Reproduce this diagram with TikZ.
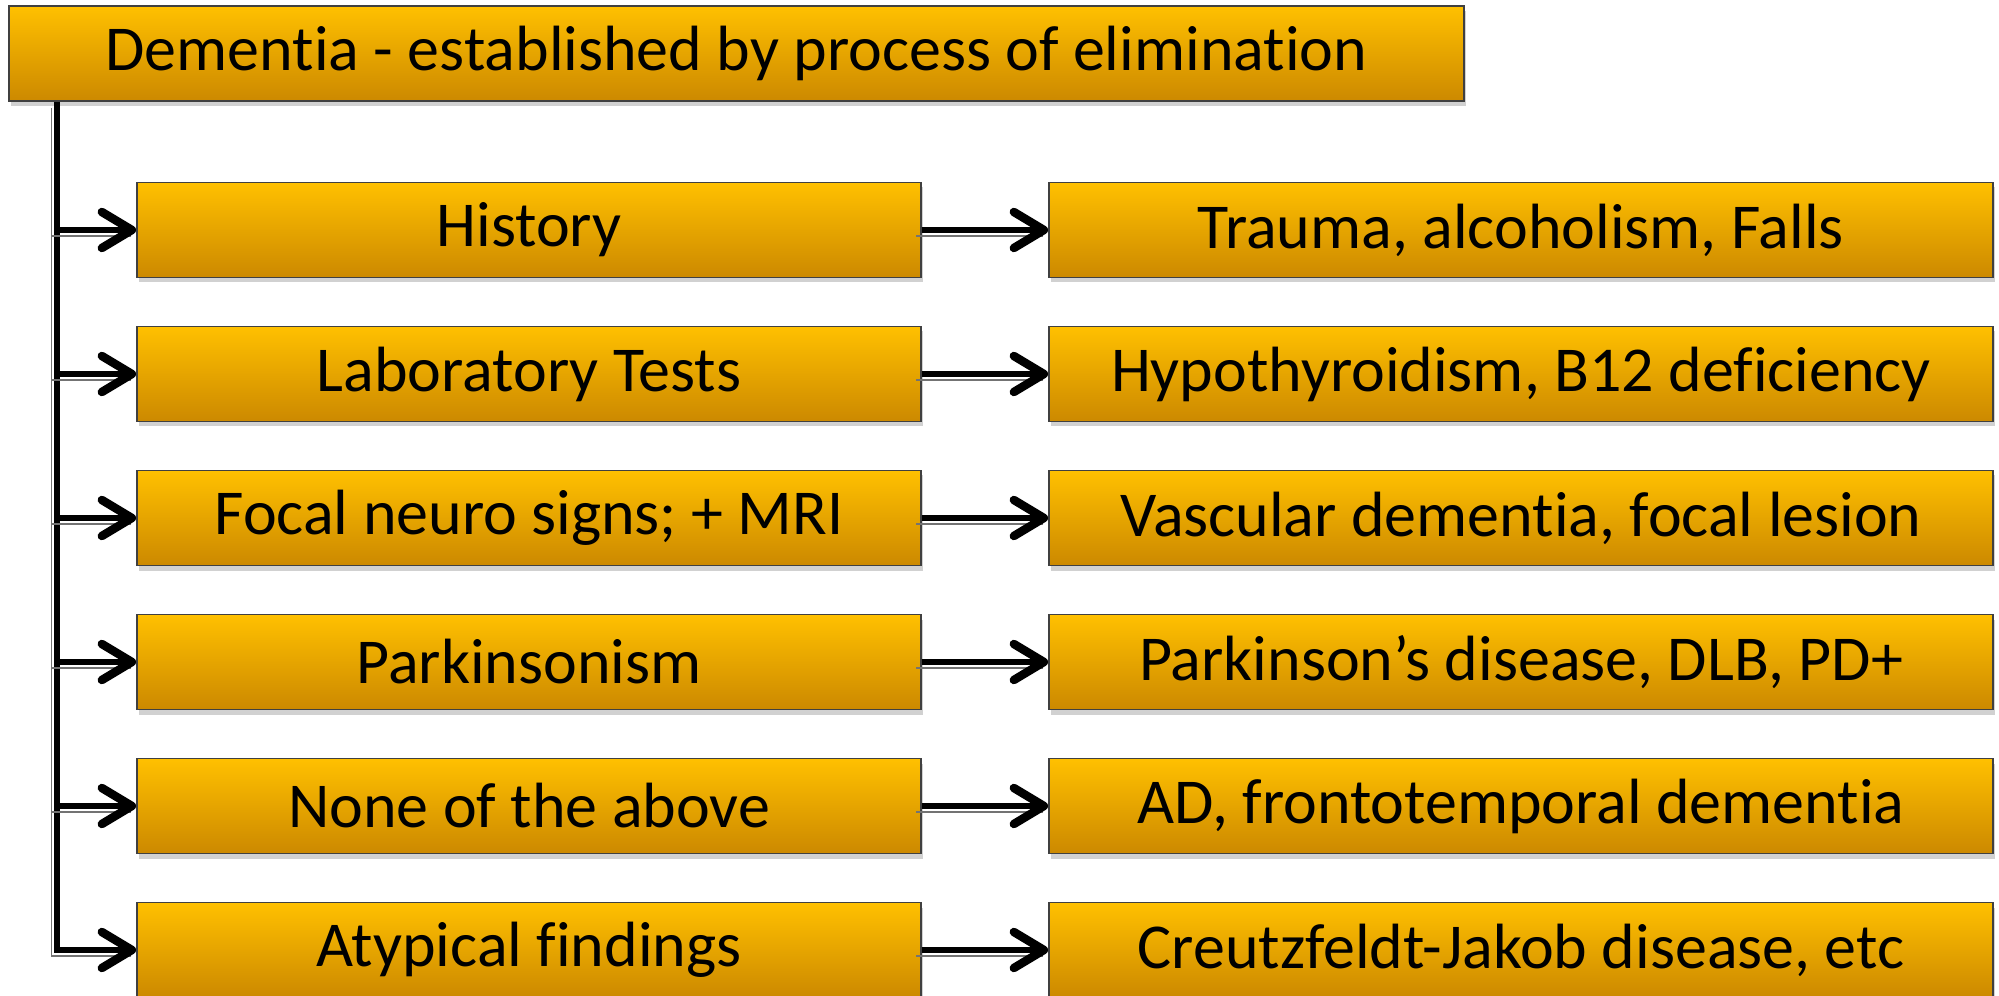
\documentclass[tikz,border=0pt]{standalone}
\usepackage{fontspec}
\setmainfont{Carlito}[Ligatures=NoCommon]
\usepackage{tikz}
\usetikzlibrary{shapes,arrows.meta,calc,shadows}
\usepackage{xcolor}
\definecolor{boxtop}{RGB}{255,192,0}
\definecolor{boxbot}{RGB}{204,137,0}
\tikzstyle{box} = [rectangle, draw=black!75, line width=0.5pt, top color=boxtop, bottom color=boxbot, minimum height=0.95cm, inner sep=0pt, font=\fontsize{18.2}{22}\selectfont, drop shadow={shadow xshift=0.02cm, shadow yshift=-0.05cm, fill=black!30, opacity=0.6}]
\tikzstyle{head} = [box, minimum width=14.55cm]
\tikzstyle{cause} = [box, minimum width=7.84cm]
\tikzstyle{result} = [box, minimum width=9.44cm]
\tikzstyle{line} = [draw, line width=0.06cm, -{Straight Barb[length=0.3cm, width=0.36cm, line width=0.085cm, round]}, preaction={draw=black!55, line width=0.016cm, -, transform canvas={shift={(-0.055cm,-0.06cm)}}}]

\begin{document}
\begin{tikzpicture}[node distance=1.44cm]
		\useasboundingbox (0,0) rectangle (19.99,-9.96);
		% Place nodes
		\node [head] (top) at (7.365,-0.535) {Dementia - established by process of elimination};
		\node [cause] (hist) at (5.29,-2.30) {History};
		\node [cause, below of=hist] (lab) {Laboratory Tests};
		\node [cause, below of=lab] (focal) {Focal neuro signs; + MRI};
		\node [cause, below of=focal] (park) {Parkinsonism};
		\node [cause, below of=park] (none) {None of the above};
		\node [cause, below of=none] (atyp) {Atypical findings};
		
		\node [result, right of=hist, xshift=8.48cm] (trauma) {Trauma, alcoholism, Falls};
		\node [result, right of=lab, xshift=8.48cm] (hypo) {Hypothyroidism, B12 deficiency};
		\node [result, right of=focal, xshift=8.48cm] (vasc) {Vascular dementia, focal lesion};
		\node [result, right of=park, xshift=8.48cm] (pd) {Parkinson’s disease, DLB, PD+};
		\node [result, right of=none, xshift=8.48cm] (ad) {AD, frontotemporal dementia};
		\node [result, right of=atyp, xshift=8.48cm] (cjd) {Creutzfeldt-Jakob disease, etc};
		\coordinate (trunk) at ([xshift=0.49cm]top.south west);
		
		% Draw edges
		\path [line] (trunk) |- (atyp.west);
		\path [line] (trunk |- hist.west) -- (hist.west);
		\path [line] (trunk |- lab.west) -- (lab.west);
		\path [line] (trunk |- focal.west) -- (focal.west);
		\path [line] (trunk |- park.west) -- (park.west);
		\path [line] (trunk |- none.west) -- (none.west);
		
		\path [line] (hist) -- (trauma);
		\path [line] (lab) -- (hypo);
		\path [line] (focal) -- (vasc);
		\path [line] (park) -- (pd);
		\path [line] (none) -- (ad);
		\path [line] (atyp) -- (cjd);
	\end{tikzpicture}
\end{document}
